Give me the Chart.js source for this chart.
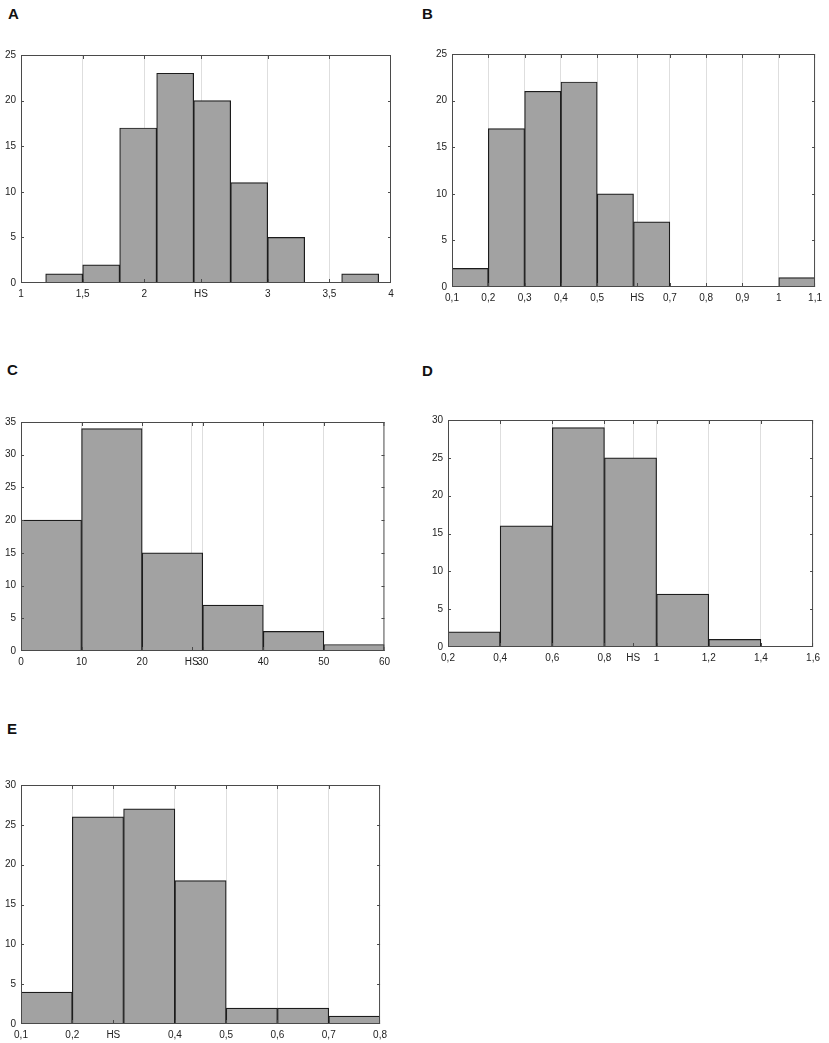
<!DOCTYPE html>
<html><head><meta charset="utf-8">
<script src="https://cdn.jsdelivr.net/npm/chart.js@4"></script>
<style>
html,body{margin:0;padding:0;background:#fff;}
body{width:829px;height:1043px;overflow:hidden;position:relative;}
.lbl{position:absolute;font:bold 15px 'Liberation Sans',Arial,sans-serif;line-height:15px;color:#111;}
canvas{position:absolute;}
</style></head><body>
<div class="lbl" style="left:8px;top:6px">A</div>
<div class="lbl" style="left:422px;top:6px">B</div>
<div class="lbl" style="left:7px;top:362px">C</div>
<div class="lbl" style="left:422px;top:363px">D</div>
<div class="lbl" style="left:7px;top:721px">E</div>
<canvas id="cA"></canvas>
<canvas id="cB"></canvas>
<canvas id="cC"></canvas>
<canvas id="cD"></canvas>
<canvas id="cE"></canvas>
<script>
// ---- Data (bin edges, counts, x tick values, HS marker, y max) ----
const edgesA = [1.2, 1.5, 1.8, 2.1, 2.4, 2.7, 3.0, 3.3, 3.6, 3.9];
const countsA = [1, 2, 17, 23, 20, 11, 5, 0, 1];
const xTicksA = [1, 1.5, 2, 3, 3.5, 4];
const hsA = 2.46;
const yMaxA = 25;

const edgesB = [0.1, 0.2, 0.3, 0.4, 0.5, 0.6, 0.7, 0.8, 0.9, 1.0, 1.1];
const countsB = [2, 17, 21, 22, 10, 7, 0, 0, 0, 1];
const xTicksB = [0.1, 0.2, 0.3, 0.4, 0.5, 0.7, 0.8, 0.9, 1, 1.1];
const hsB = 0.61;
const yMaxB = 25;

const edgesC = [0, 10, 20, 30, 40, 50, 60];
const countsC = [20, 34, 15, 7, 3, 1];
const xTicksC = [0, 10, 20, 30, 40, 50, 60];
const hsC = 28.2;
const yMaxC = 35;

const edgesD = [0.2, 0.4, 0.6, 0.8, 1.0, 1.2, 1.4, 1.6];
const countsD = [2, 16, 29, 25, 7, 1, 0];
const xTicksD = [0.2, 0.4, 0.6, 0.8, 1, 1.2, 1.4, 1.6];
const hsD = 0.91;
const yMaxD = 30;

const edgesE = [0.1, 0.2, 0.3, 0.4, 0.5, 0.6, 0.7, 0.8];
const countsE = [4, 26, 27, 18, 2, 2, 1];
const xTicksE = [0.1, 0.2, 0.4, 0.5, 0.6, 0.7, 0.8];
const hsE = 0.28;
const yMaxE = 30;

// ---- Layout (plot-area rectangles) ----
const YW = 21, PT = 8, PR = 8, XH = 20;
const panels = [
  {id:'cA', edges:edgesA, counts:countsA, xt:xTicksA, hs:hsA, ymax:yMaxA, L:21,  T:52,  W:370, H:231},
  {id:'cB', edges:edgesB, counts:countsB, xt:xTicksB, hs:hsB, ymax:yMaxB, L:452, T:51,  W:367, H:236},
  {id:'cC', edges:edgesC, counts:countsC, xt:xTicksC, hs:hsC, ymax:yMaxC, L:21,  T:419, W:366, H:232},
  {id:'cD', edges:edgesD, counts:countsD, xt:xTicksD, hs:hsD, ymax:yMaxD, L:448, T:417, W:369, H:230},
  {id:'cE', edges:edgesE, counts:countsE, xt:xTicksE, hs:hsE, ymax:yMaxE, L:21,  T:782, W:363, H:242}
];

Chart.defaults.font.family = "'Liberation Sans Narrow','Liberation Sans',Arial,sans-serif";
Chart.defaults.font.size = 10;
Chart.defaults.color = '#222';

const fmt = v => String(Math.round(v*1000)/1000).replace('.', ',');

const framePlugin = {
  id: 'frame',
  afterDraw(chart) {
    const {ctx, chartArea: a, scales: {x, y}} = chart;
    const clampX = v => Math.min(Math.max(v, a.left + 0.5), a.right - 0.5);
    const clampY = v => Math.min(Math.max(v, a.top + 0.5), a.bottom - 0.5);
    ctx.save();
    ctx.strokeStyle = '#4a4a4a';
    ctx.lineWidth = 1;
    ctx.strokeRect(a.left + 0.5, a.top + 0.5, a.right - a.left - 1, a.bottom - a.top - 1);
    ctx.beginPath();
    x.ticks.forEach(t => {
      const px = clampX(Math.round(x.getPixelForValue(t.value)) + 0.5);
      ctx.moveTo(px, a.top); ctx.lineTo(px, a.top + 4);
      ctx.moveTo(px, a.bottom); ctx.lineTo(px, a.bottom - 4);
    });
    y.ticks.forEach(t => {
      const py = clampY(Math.round(y.getPixelForValue(t.value)) + 0.5);
      ctx.moveTo(a.left, py); ctx.lineTo(a.left + 3, py);
      ctx.moveTo(a.right, py); ctx.lineTo(a.right - 3, py);
    });
    ctx.stroke();
    ctx.restore();
  }
};

panels.forEach(p => {
  const cv = document.getElementById(p.id);
  const cw = p.W + YW + PR, ch = p.H + PT + XH;
  cv.width = cw; cv.height = ch;
  cv.style.width = cw + 'px'; cv.style.height = ch + 'px';
  cv.style.left = (p.L - YW) + 'px'; cv.style.top = (p.T - PT) + 'px';
  const xmin = p.xt[0], xmax = p.xt[p.xt.length - 1];
  const allTicks = p.xt.concat([p.hs]).sort((a, b) => a - b);
  const data = p.counts.map((c, i) => ({x: (p.edges[i] + p.edges[i + 1]) / 2, y: c}));
  new Chart(cv, {
    type: 'bar',
    data: {
      datasets: [{
        data: data,
        xAxisID: 'xb',
        yAxisID: 'y',
        backgroundColor: '#a2a2a2',
        borderColor: '#1c1c1c',
        borderWidth: 1.2,
        barPercentage: 1,
        categoryPercentage: 1
      }]
    },
    options: {
      responsive: false,
      animation: false,
      devicePixelRatio: 1,
      layout: {padding: {top: PT, right: PR, left: 0, bottom: 0}},
      plugins: {legend: {display: false}, tooltip: {enabled: false}},
      scales: {
        xb: {
          type: 'linear', axis: 'x', display: false, min: xmin, max: xmax, offset: false,
          grid: {offset: false},
          afterBuildTicks: s => { s.ticks = p.edges.map(v => ({value: v})); }
        },
        x: {
          type: 'linear', axis: 'x', position: 'bottom', min: xmin, max: xmax, offset: false, z: 1,
          afterBuildTicks: s => { s.ticks = allTicks.map(v => ({value: v})); },
          afterFit: s => { s.height = XH; },
          ticks: {
            autoSkip: false, maxRotation: 0, minRotation: 0, padding: 5,
            callback: v => (Math.abs(v - p.hs) < 1e-9 ? 'HS' : fmt(v))
          },
          grid: {
            offset: false, drawTicks: false, lineWidth: 1,
            color: c => (c.tick && (c.tick.value === xmin || c.tick.value === xmax)) ? 'rgba(0,0,0,0)' : 'rgba(195,195,195,0.55)'
          },
          border: {display: false}
        },
        y: {
          type: 'linear', position: 'left', min: 0, max: p.ymax,
          afterFit: s => { s.width = YW; },
          ticks: {stepSize: 5, padding: 5},
          grid: {display: false, drawTicks: false},
          border: {display: false}
        }
      }
    },
    plugins: [framePlugin]
  });
});
</script>
</body></html>
